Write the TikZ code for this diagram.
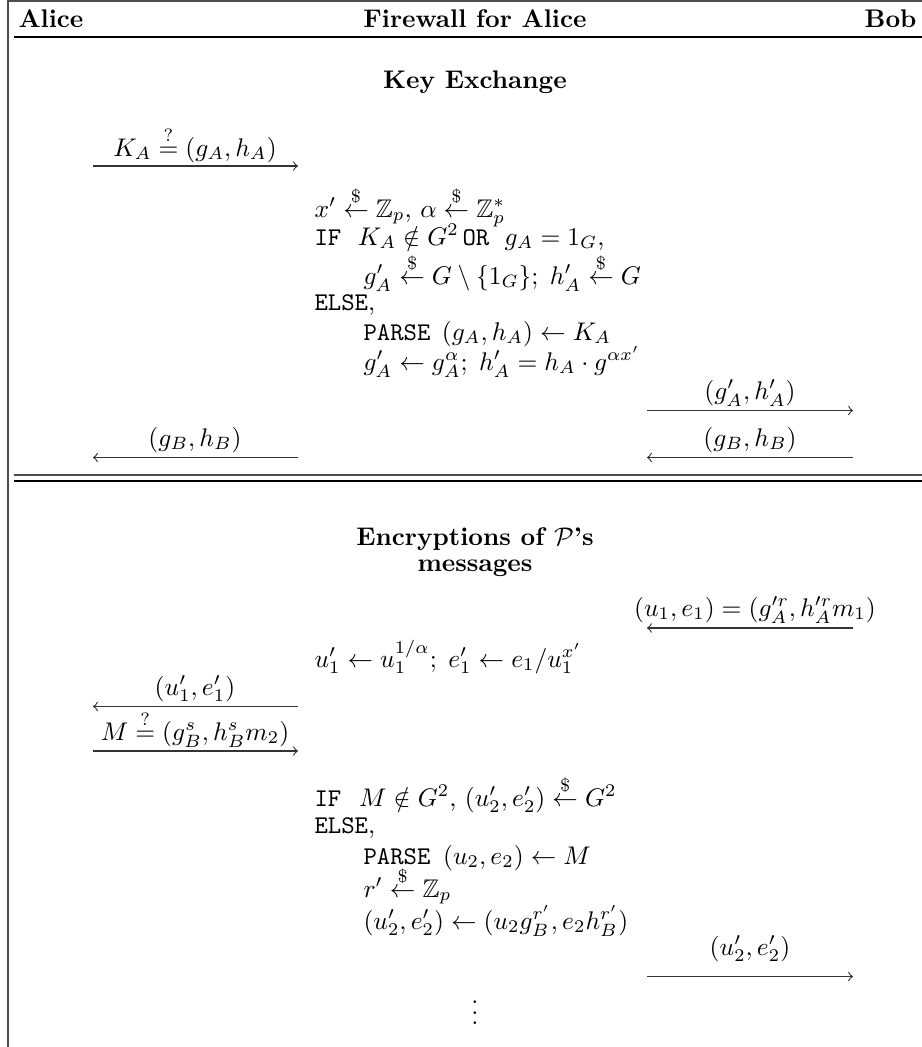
\documentclass[tikz,border=0pt]{standalone}
\usepackage{amsmath,amssymb}
\newcommand\smp{\stackrel{\$}{\leftarrow}}
\newcommand\qeq{\stackrel{?}{=}}
\newcommand\kw[1]{\texttt{#1}}
\begin{document}
\begin{tikzpicture}[x=0.3922pt,y=-0.3922pt,
  lbl/.style={anchor=base, inner sep=0pt},
  cmd/.style={anchor=base west, inner sep=0pt},
  hdr/.style={anchor=base, inner sep=0pt, font=\bfseries},
  msg/.style={draw=black!80, line width=0.45pt, ->},
  frameline/.style={draw=black!70, line width=0.5pt},
  ruleline/.style={draw=black, line width=0.45pt}]
\useasboundingbox (0,0) rectangle (922,1047);
% frame
\coordinate (fTL) at (8,1); \coordinate (fTR) at (922,1); \coordinate (fBL) at (8,1047);
\draw[frameline] (fBL) -- (fTL) -- (fTR);
% header
\node[hdr, anchor=base west] (alice) at (18,27) {Alice};
\node[hdr] (fw) at (475,27) {Firewall for Alice};
\node[hdr, anchor=base east] (bob) at (917,27) {Bob};
\coordinate (h1) at (14,37); \coordinate (h2) at (922,37);
\draw[ruleline] (h1) -- (h2);
% key exchange
\node[hdr] (kex) at (475,88) {Key Exchange};
\coordinate (m1s) at (93,166); \coordinate (m1e) at (298,166);
\draw[msg] (m1s) -- (m1e);
\node[lbl] (m1l) at (195,156) {$K_A \qeq (g_A,h_A)$};
\node[cmd] (c1) at (314,217) {$x' \smp \mathbb{Z}_p$, $\alpha \smp \mathbb{Z}_p^*$};
\node[cmd] (c2) at (314,245) {\kw{IF}\hspace{6.5pt}$K_A \notin G^2$\hspace{1.5pt}\kw{OR}\hspace{6pt}$g_A = 1_G$,};
\node[cmd] (c3) at (363,284) {$g'_A \smp G\setminus\{1_G\};\; h'_A \smp G$};
\node[cmd] (c4) at (314,310) {\kw{ELSE},};
\node[cmd] (c5) at (363,340) {\kw{PARSE}\hspace{4.5pt}$(g_A,h_A) \leftarrow K_A$};
\node[cmd] (c6) at (363,370) {$g'_A \leftarrow g_A^{\alpha};\; h'_A = h_A\cdot g^{\alpha x'}$};
\coordinate (m2s) at (647,410.5); \coordinate (m2e) at (853,410.5);
\draw[msg] (m2s) -- (m2e);
\node[lbl] (m2l) at (750,399) {$(g'_A,h'_A)$};
\coordinate (m3s) at (853,457.5); \coordinate (m3e) at (647,457.5);
\draw[msg] (m3s) -- (m3e);
\node[lbl] (m3l) at (750,446) {$(g_B,h_B)$};
\coordinate (m4s) at (298,457.5); \coordinate (m4e) at (93,457.5);
\draw[msg] (m4s) -- (m4e);
\node[lbl] (m4l) at (195,446) {$(g_B,h_B)$};
% double rule
\coordinate (d1a) at (14,475); \coordinate (d1b) at (922,475);
\coordinate (d2a) at (14,481); \coordinate (d2b) at (922,481);
\draw[ruleline, draw=black!70] (d1a) -- (d1b);
\draw[ruleline] (d2a) -- (d2b);
% encryptions
\node[hdr] (enc1) at (475,545) {Encryptions of $\mathcal{P}$'s};
\node[hdr] (enc2) at (475,571) {messages};
\coordinate (m5s) at (853,628); \coordinate (m5e) at (647,628);
\draw[msg] (m5s) -- (m5e);
\node[lbl] (m5l) at (755,616) {$(u_1,e_1) = (g_A^{\prime r}, h_A^{\prime r} m_1)$};
\node[cmd] (c7) at (314,667) {$u'_1 \leftarrow u_1^{1/\alpha};\; e'_1 \leftarrow e_1/u_1^{x'}$};
\coordinate (m6s) at (298,706.5); \coordinate (m6e) at (93,706.5);
\draw[msg] (m6s) -- (m6e);
\node[lbl] (m6l) at (195,695) {$(u'_1,e'_1)$};
\coordinate (m7s) at (93,751); \coordinate (m7e) at (298,751);
\draw[msg] (m7s) -- (m7e);
\node[lbl] (m7l) at (195,740) {$M \qeq (g_B^s, h_B^s m_2)$};
\node[cmd] (c8) at (314,806) {\kw{IF}\hspace{7pt}$M \notin G^2$, $(u'_2,e'_2) \smp G^2$};
\node[cmd] (c9) at (314,833) {\kw{ELSE},};
\node[cmd] (c10) at (363,864) {\kw{PARSE}\hspace{5pt}$(u_2,e_2) \leftarrow M$};
\node[cmd] (c11) at (363,897) {$r' \smp \mathbb{Z}_p$};
\node[cmd] (c12) at (363,929) {$(u'_2,e'_2) \leftarrow (u_2 g_B^{r'}, e_2 h_B^{r'})$};
\coordinate (m8s) at (647,976.5); \coordinate (m8e) at (853,976.5);
\draw[msg] (m8s) -- (m8e);
\node[lbl] (m8l) at (750,955) {$(u'_2,e'_2)$};
\node[inner sep=0pt] (dots) at (475,1005) {$\vdots$};
\end{tikzpicture}
\end{document}
